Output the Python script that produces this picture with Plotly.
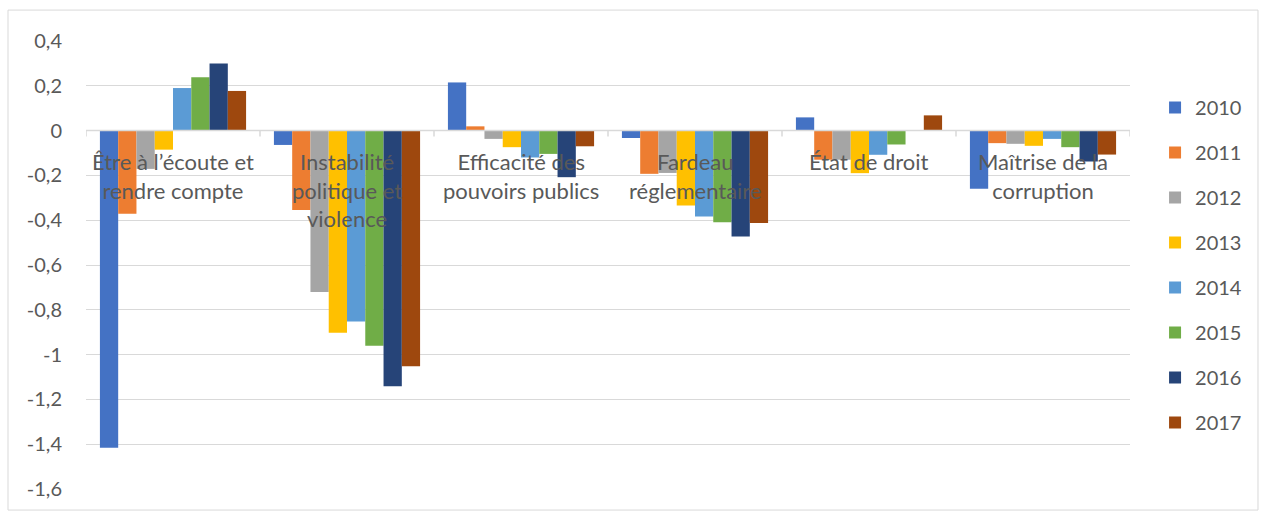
import plotly.graph_objects as go

categories = ["Être à l’écoute et<br>rendre compte", "Instabilité<br>politique et<br>violence",
              "Efficacité des<br>pouvoirs publics", "Fardeau<br>réglementaire",
              "État de droit", "Maîtrise de la<br>corruption"]
years = ["2010", "2011", "2012", "2013", "2014", "2015", "2016", "2017"]
v2010 = [-1.416, -0.064, 0.215, -0.033, 0.059, -0.26]
v2011 = [-0.371, -0.354, 0.019, -0.193, -0.13, -0.056]
v2012 = [-0.171, -0.721, -0.037, -0.189, -0.13, -0.059]
v2013 = [-0.085, -0.902, -0.074, -0.334, -0.19, -0.068]
v2014 = [0.19, -0.852, -0.12, -0.383, -0.108, -0.037]
v2015 = [0.238, -0.961, -0.104, -0.409, -0.062, -0.074]
v2016 = [0.30, -1.141, -0.208, -0.473, 0.0, -0.138]
v2017 = [0.177, -1.052, -0.07, -0.412, 0.068, -0.107]
series = [v2010, v2011, v2012, v2013, v2014, v2015, v2016, v2017]
colors = ["#4472C4", "#ED7D31", "#A5A5A5", "#FFC000", "#5B9BD5", "#70AD47", "#264478", "#9E480E"]
tick_vals = [0.4, 0.2, 0, -0.2, -0.4, -0.6, -0.8, -1, -1.2, -1.4, -1.6]
tick_text = ["0,4", "0,2", "0", "-0,2", "-0,4", "-0,6", "-0,8", "-1", "-1,2", "-1,4", "-1,6"]

FONT = "Lato"
TXT = "#595959"

fig = go.Figure()
for yr, vals, c in zip(years, series, colors):
    fig.add_trace(go.Bar(x=list(range(len(categories))), y=vals, name=yr, marker_color=c,
                         marker_line_width=0, legendgroup=yr))

for i, cat in enumerate(categories):
    fig.add_annotation(x=i, y=0, xref="x", yref="y", text=cat, showarrow=False,
                       yanchor="top", yshift=-15, font=dict(family=FONT, size=22, color=TXT))

shapes = [dict(type="line", xref="x", yref="y", x0=-0.5, x1=len(categories) - 0.5, y0=0, y1=0,
               line=dict(color="#D9D9D9", width=1.5))]
for i in range(len(categories) + 1):
    shapes.append(dict(type="line", xref="x", yref="paper", x0=i - 0.5, x1=i - 0.5,
                       y0=0.8, y1=0.8 - 6 / 448, line=dict(color="#D9D9D9", width=1.5)))
shapes.append(dict(type="rect", xref="paper", yref="paper", x0=-0.0747, x1=1.1226,
                   y0=-0.047, y1=1.069, line=dict(color="#D9D9D9", width=1), layer="below"))

fig.update_layout(
    width=1261, height=512,
    margin=dict(l=86, r=131, t=41, b=23),
    paper_bgcolor="white", plot_bgcolor="white",
    barmode="group", bargap=0.16, bargroupgap=0,
    font=dict(family=FONT, size=20, color=TXT),
    xaxis=dict(showticklabels=False, showgrid=False, zeroline=False, showline=False,
               range=[-0.5, len(categories) - 0.5]),
    yaxis=dict(range=[-1.6, 0.4], tickvals=tick_vals, ticktext=tick_text,
               showgrid=True, gridcolor="#D9D9D9", gridwidth=1, zeroline=False,
               showline=False, ticklabelstandoff=23,
               tickfont=dict(family=FONT, size=20, color=TXT)),
    legend=dict(x=1.024, xanchor="left", y=0.5, yanchor="middle", tracegroupgap=16,
                font=dict(family=FONT, size=20, color=TXT), itemwidth=30),
    showlegend=True,
    shapes=shapes,
)
fig.write_html("out.html")
